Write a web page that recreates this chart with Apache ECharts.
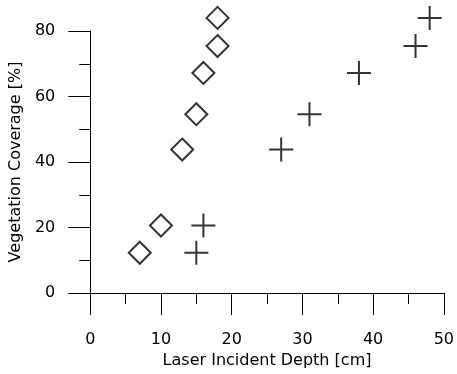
<!DOCTYPE html>
<html><head><meta charset="utf-8">
<script src="https://cdn.jsdelivr.net/npm/echarts@6/dist/echarts.min.js"></script>
<style>html,body{margin:0;padding:0;background:#fff}#c{width:457px;height:374px}</style>
</head><body><div id="c"></div>
<script>
const coverage = [12.3, 20.6, 43.8, 54.6, 67.2, 75.4, 84.0];
const depthDiamond = [7, 10, 13, 15, 16, 18, 18];
const depthCross = [15, 16, 27, 31, 38, 46, 48];
const xTicks = [0, 10, 20, 30, 40, 50];
const yTicks = [0, 20, 40, 60, 80];

const font = 'DejaVu Sans, sans-serif';
const chart = echarts.init(document.getElementById('c'));
const axisCommon = {
  axisLine: {show: true, onZero: false, lineStyle: {color: '#000', width: 1}},
  axisTick: {show: true, inside: false, length: 22, lineStyle: {color: '#000', width: 1}},
  minorTick: {show: true, splitNumber: 2, length: 11, lineStyle: {color: '#000', width: 1}},
  splitLine: {show: false},
  minorSplitLine: {show: false},
  nameLocation: 'middle',
  nameTextStyle: {fontFamily: font, fontSize: 16, color: '#000'}
};
chart.setOption({
  animation: false,
  grid: {left: 89, right: 12, top: 31, bottom: 77, containLabel: false},
  xAxis: Object.assign({}, axisCommon, {
    type: 'value', min: xTicks[0], max: xTicks[xTicks.length - 1], interval: 10,
    name: 'Laser Incident Depth [cm]', nameGap: 60,
    axisLabel: {margin: 39, fontFamily: font, fontSize: 16, color: '#000'}
  }),
  yAxis: Object.assign({}, axisCommon, {
    type: 'value', min: yTicks[0], max: yTicks[yTicks.length - 1], interval: 20,
    name: 'Vegetation Coverage [%]', nameGap: 61,
    axisLabel: {margin: 35, fontFamily: font, fontSize: 16, color: '#000'}
  }),
  series: [
    {
      type: 'scatter', clip: false,
      data: depthDiamond.map((x, i) => [x, coverage[i]]),
      symbol: 'diamond', symbolSize: [22, 22],
      itemStyle: {color: 'rgba(0,0,0,0)', borderColor: '#000', borderWidth: 2}
    },
    {
      type: 'scatter', clip: false,
      data: depthCross.map((x, i) => [x, coverage[i]]),
      symbol: 'path://M0,10L20,10M10,0L10,20', symbolSize: [24, 24],
      itemStyle: {color: 'rgba(0,0,0,0)', borderColor: '#000', borderWidth: 2}
    }
  ]
});
</script></body></html>
